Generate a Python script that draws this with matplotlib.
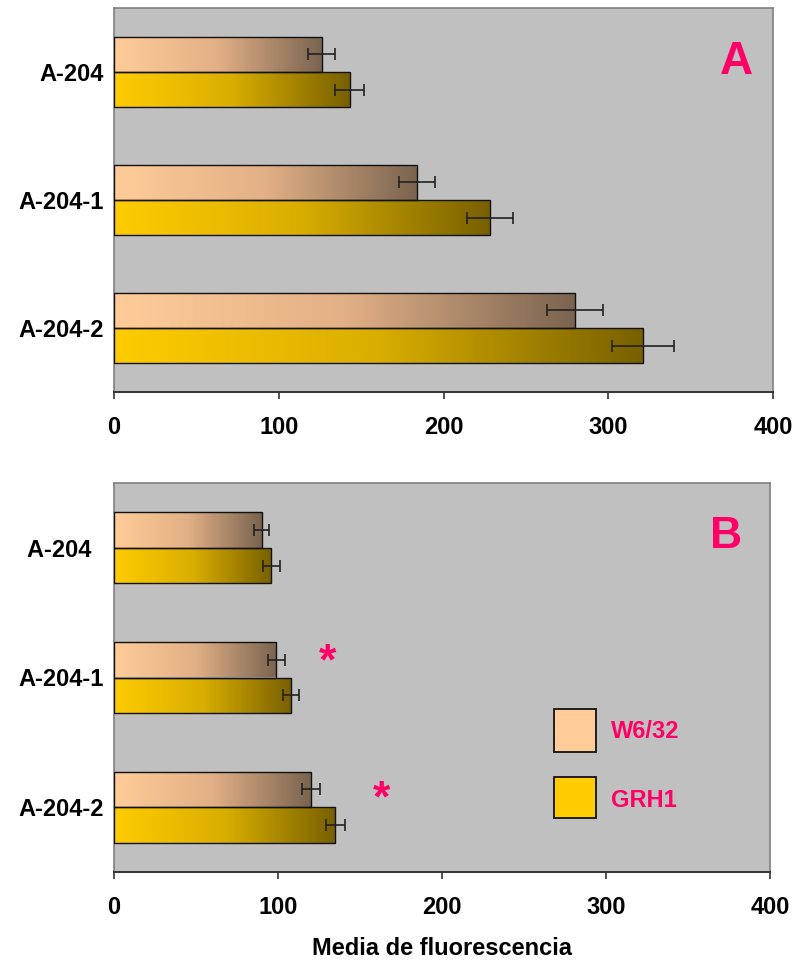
import numpy as np
import matplotlib.pyplot as plt
from matplotlib.colors import LinearSegmentedColormap

plt.rcParams['font.family'] = ['Liberation Sans', 'DejaVu Sans']
plt.rcParams['font.weight'] = 'bold'

categorias = ['A-204', 'A-204-1', 'A-204-2']
etiquetas_b = ['A-204  ', 'A-204-1', 'A-204-2']

# Panel A: media de fluorescencia y error
w632_a = [126, 184, 280]
w632_a_err = [8, 11, 17]
grh1_a = [143, 228, 321]
grh1_a_err = [9, 14, 19]

# Panel B
w632_b = [90, 99, 120]
w632_b_err = [4.5, 5, 5.5]
grh1_b = [96, 108, 135]
grh1_b_err = [5, 5, 6]

# asteriscos de significancia en B (x, y en unidades de categoria)
asteriscos_x = [130, 163]
asteriscos_y = [0.885, 1.945]

rosa = '#FF0066'
fondo = '#C0C0C0'
cmap_w = LinearSegmentedColormap.from_list('w632', ['#FFCC99', '#E2B086', '#7A6450'])
cmap_g = LinearSegmentedColormap.from_list('grh1', ['#FFCC00', '#D9AE00', '#786000'])
grad = np.linspace(0, 1, 256).reshape(1, -1)


def degradado(ax, barras, cmap):
    for b in barras:
        x, y = b.get_x(), b.get_y()
        w, h = b.get_width(), b.get_height()
        im = ax.imshow(grad, cmap=cmap, aspect='auto', extent=[x, x + w, y + h, y],
                       zorder=2, interpolation='bilinear')
        im.set_clip_path(b)


def panel(ax, w, w_err, g, g_err, etiquetas):
    y = np.arange(len(categorias))
    h = 0.275
    bw = ax.barh(y - h / 2, w, height=h, color='none', edgecolor='#111111',
                 linewidth=1.0, zorder=3)
    bg = ax.barh(y + h / 2, g, height=h, color='none', edgecolor='#111111',
                 linewidth=1.0, zorder=3)
    degradado(ax, bw, cmap_w)
    degradado(ax, bg, cmap_g)
    ax.errorbar(w, y - h / 2, xerr=w_err, fmt='none', ecolor='#222222',
                elinewidth=1.2, capsize=4, capthick=1.2, zorder=4)
    ax.errorbar(g, y + h / 2, xerr=g_err, fmt='none', ecolor='#222222',
                elinewidth=1.2, capsize=4, capthick=1.2, zorder=4)
    ax.set_xlim(0, 400)
    ax.set_ylim(2.5, -0.5)
    ax.set_facecolor(fondo)
    ax.set_xticks([0, 100, 200, 300, 400])
    ax.set_yticks(y)
    ax.set_yticklabels(etiquetas, fontsize=17, fontweight='bold')
    ax.tick_params(axis='y', length=0, pad=7)
    ax.tick_params(axis='x', length=5, width=1.2, color='#333333', pad=12,
                   labelsize=17)
    for s in ['top', 'right', 'left']:
        ax.spines[s].set_color('#808080')
        ax.spines[s].set_linewidth(1.2)
    ax.spines['bottom'].set_color('#333333')
    ax.spines['bottom'].set_linewidth(1.4)


fig = plt.figure(figsize=(7.94, 9.64), dpi=100)
ax_a = fig.add_axes([114 / 794, 1 - 392 / 964, 659 / 794, 384 / 964])
ax_b = fig.add_axes([114 / 794, 1 - 872 / 964, 656 / 794, 389 / 964])

panel(ax_a, w632_a, w632_a_err, grh1_a, grh1_a_err, categorias)
panel(ax_b, w632_b, w632_b_err, grh1_b, grh1_b_err, etiquetas_b)

ax_a.text(378, -0.08, 'A', color=rosa, fontsize=33, fontweight='bold',
          ha='center', va='center')
ax_b.text(373, -0.09, 'B', color=rosa, fontsize=32, fontweight='bold',
          ha='center', va='center')

for xa, ya in zip(asteriscos_x, asteriscos_y):
    ax_b.text(xa, ya, '*', color=rosa, fontsize=32, fontweight='bold',
              ha='center', va='center')

# leyenda dibujada a mano dentro del panel B
ax_b.add_patch(plt.Rectangle((268, 1.243), 26, 0.33, facecolor='#FFCC99',
                             edgecolor='#111111', linewidth=1.3, zorder=5))
ax_b.add_patch(plt.Rectangle((268, 1.767), 26, 0.316, facecolor='#FFCC00',
                             edgecolor='#111111', linewidth=1.3, zorder=5))
ax_b.text(303, 1.418, 'W6/32', color=rosa, fontsize=17, fontweight='bold',
          va='center', zorder=5)
ax_b.text(303, 1.949, 'GRH1', color=rosa, fontsize=17, fontweight='bold',
          va='center', zorder=5)

ax_b.set_xlabel('Media de fluorescencia', fontsize=17, fontweight='bold',
                labelpad=13)

fig.savefig('out.png', dpi=100, facecolor='white')
